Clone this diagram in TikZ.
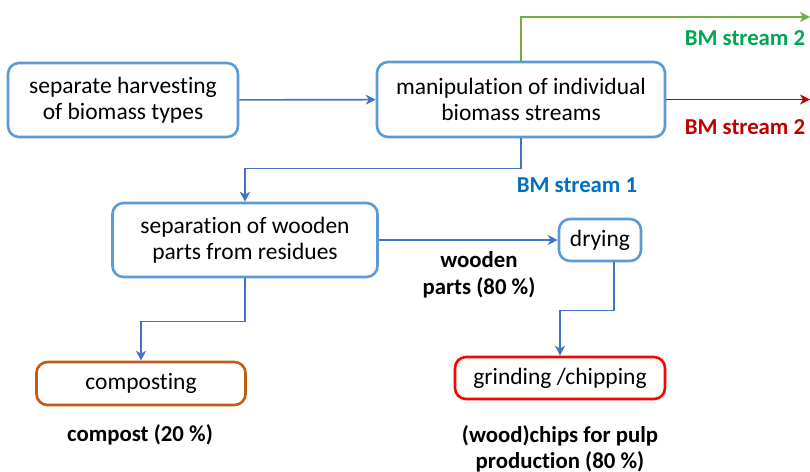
\documentclass[tikz,border=0pt]{standalone}
\usepackage{fontspec}
\setmainfont[Ligatures=NoCommon]{Carlito}
\usetikzlibrary{arrows.meta}
\definecolor{boxblue}{RGB}{91,155,213}
\definecolor{arrblue}{RGB}{68,114,196}
\definecolor{lgreen}{RGB}{112,173,71}
\definecolor{tgreen}{RGB}{0,166,81}
\definecolor{dred}{RGB}{192,0,0}
\definecolor{tblue}{RGB}{0,112,192}
\definecolor{brown}{RGB}{197,90,17}
\begin{document}
\begin{tikzpicture}[x=1pt,y=-1pt,
  stepbox/.style={draw=boxblue,line width=2.6pt,rounded corners=11pt,fill=white,
    align=center,inner sep=0pt,font=\fontsize{23.5}{26}\selectfont},
  arr/.style={draw=arrblue,line width=1.6pt,-{Stealth[length=10pt,width=10pt,inset=3pt]}},
  lab/.style={align=center,font=\fontsize{22.8}{26.5}\selectfont\bfseries}]
\useasboundingbox (0,0) rectangle (810,471);
\node[stepbox,minimum width=230,minimum height=74] (A) at (123,100) {separate harvesting\\of biomass types};
\node[stepbox,minimum width=288,minimum height=75] (B) at (521,99.5) {manipulation of individual\\biomass streams};
\node[stepbox,minimum width=265,minimum height=74] (C) at (245,240) {separation of wooden\\parts from residues};
\node[stepbox,minimum width=82,minimum height=42] (D) at (600,240) {drying};
\node[stepbox,draw=brown,minimum width=209,minimum height=43] (K) at (141,383.5) {composting};
\node[stepbox,draw=red,minimum width=210,minimum height=42] (G) at (560,378) {grinding /chipping};
\coordinate (gend) at (810,17);
\coordinate (rend) at (810,99.5);
\draw[arr] (A) -- (B);
\draw[arr,draw=lgreen] (B.north) |- (gend);
\draw[arr,draw=dred] (B.east) -- (rend);
\draw[arr] (B.south) -- ++(0,30) -| (C.north);
\draw[arr] (C.east) -- (D.west);
\draw[arr] (C.south) -- ++(0,43) -| (K.north);
\draw[arr] ([xshift=14pt]D.south) -- ++(0,48) -| (G.north);
\node[lab,text=tgreen] (l1) at (745,38) {BM stream 2};
\node[lab,text=dred] (l2) at (745,127) {BM stream 2};
\node[lab,text=tblue] (l3) at (577,185) {BM stream 1};
\node[lab] (l4) at (479,275) {wooden\\parts (80 \%)};
\node[lab] (l5) at (140,435) {compost (20 \%)};
\node[lab] (l6) at (560,449) {(wood)chips for pulp\\production (80 \%)};
\end{tikzpicture}
\end{document}
